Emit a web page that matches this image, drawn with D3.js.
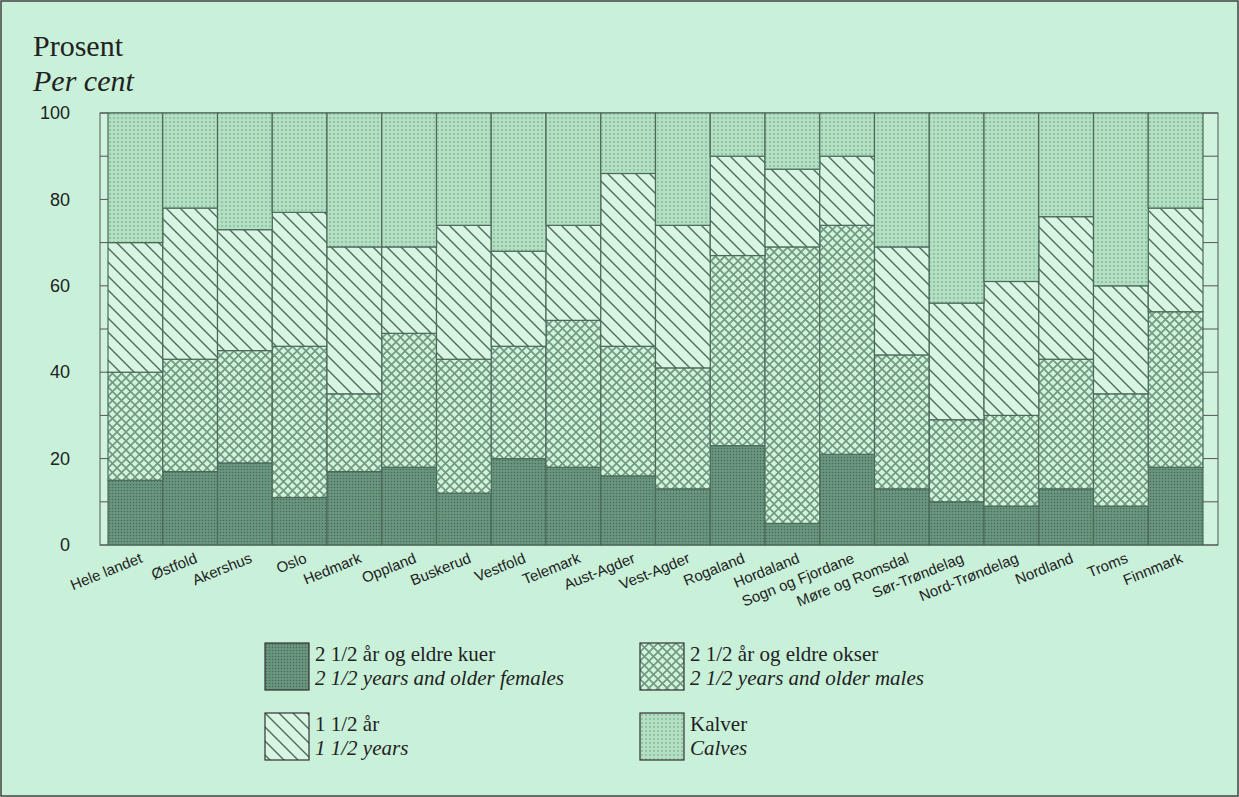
<!DOCTYPE html>
<html><head><meta charset="utf-8">
<script src="https://cdn.jsdelivr.net/npm/d3@7"></script>
<style>body{margin:0;background:#c9f0d9;}svg{display:block}</style>
</head><body>
<svg id="c" width="1239" height="797"></svg>
<script>
const categories=["Hele landet","Østfold","Akershus","Oslo","Hedmark","Oppland","Buskerud","Vestfold","Telemark","Aust-Agder","Vest-Agder","Rogaland","Hordaland","Sogn og Fjordane","Møre og Romsdal","Sør-Trøndelag","Nord-Trøndelag","Nordland","Troms","Finnmark"];
const kuer=[15,17,19,11,17,18,12,20,18,16,13,23,5,21,13,10,9,13,9,18];
const okser=[25,26,26,35,18,31,31,26,34,30,28,44,64,53,31,19,21,30,26,36];
const aar15=[30,35,28,31,34,20,31,22,22,40,33,23,18,16,25,27,31,33,25,24];
const kalver=[30,22,27,23,31,31,26,32,26,14,26,10,13,10,31,44,39,24,40,22];
const yTicks=[0,20,40,60,80,100];
const keys=["kuer","okser","aar15","kalver"];

const svg=d3.select("#c");
const defs=svg.append("defs");
function dots(id,bg,fg,s,r){const p=defs.append("pattern").attr("id",id).attr("width",s).attr("height",s).attr("patternUnits","userSpaceOnUse");
 p.append("rect").attr("width",s).attr("height",s).attr("fill",bg);p.append("circle").attr("cx",s/2).attr("cy",s/2).attr("r",r).attr("fill",fg);}
dots("pk","#6a9680","#476b58",3,0.8);
dots("pc","#b3e0c4","#86b598",4,0.9);
(function(){const p=defs.append("pattern").attr("id","po").attr("width",9).attr("height",9).attr("patternUnits","userSpaceOnUse");
 p.append("rect").attr("width",9).attr("height",9).attr("fill","#d2f2de");
 p.append("path").attr("d","M0,0L9,9M9,0L0,9").attr("stroke","#6f9a80").attr("stroke-width",1.6);})();
(function(){const p=defs.append("pattern").attr("id","pa").attr("width",14).attr("height",14).attr("patternUnits","userSpaceOnUse");
 p.append("rect").attr("width",14).attr("height",14).attr("fill","#d8f5e3");
 p.append("path").attr("d","M0,0L14,14M-7,7L7,21M7,-7L21,7").attr("stroke","#4e6e5c").attr("stroke-width",1.4);})();
const fills={kuer:"url(#pk)",okser:"url(#po)",aar15:"url(#pa)",kalver:"url(#pc)"};

svg.append("rect").attr("x",1).attr("y",1).attr("width",1237).attr("height",795).attr("fill","none").attr("stroke","#444").attr("stroke-width",1.5);
svg.append("text").attr("x",33).attr("y",56).attr("font-family","Liberation Serif").attr("font-size",30).attr("fill","#222").text("Prosent");
svg.append("text").attr("x",33).attr("y",91).attr("font-family","Liberation Serif").attr("font-style","italic").attr("font-size",30).attr("fill","#222").text("Per cent");

const x=d3.scaleBand().domain(categories).range([108,1203]).padding(0);
const y=d3.scaleLinear().domain([0,100]).range([545,113]);
svg.append("rect").attr("x",100).attr("y",113).attr("width",1118).attr("height",432).attr("fill","#d0f3de").attr("stroke","#555");

const data=categories.map((c,i)=>({cat:c,kuer:kuer[i],okser:okser[i],aar15:aar15[i],kalver:kalver[i]}));
const stack=d3.stack().keys(keys)(data);
svg.append("g").selectAll("g").data(stack).join("g").attr("fill",d=>fills[d.key])
 .selectAll("rect").data(d=>d).join("rect")
 .attr("x",d=>x(d.data.cat)).attr("width",x.bandwidth())
 .attr("y",d=>y(d[1])).attr("height",d=>y(d[0])-y(d[1]))
 .attr("stroke","#4b6a58").attr("stroke-width",1.2);

const ya=svg.append("g").attr("transform","translate(100,0)").call(d3.axisLeft(y).tickValues(yTicks).tickSize(0).tickPadding(30));
ya.select(".domain").remove();
ya.selectAll("text").attr("font-family","Liberation Sans").attr("font-size",18).attr("fill","#222");
svg.append("g").selectAll("line").data(d3.range(0,101,10)).join("line")
 .attr("x1",100).attr("x2",108).attr("y1",d=>y(d)).attr("y2",d=>y(d)).attr("stroke","#555");
svg.append("g").selectAll("line").data(d3.range(0,101,10)).join("line")
 .attr("x1",1203).attr("x2",1218).attr("y1",d=>y(d)).attr("y2",d=>y(d)).attr("stroke","#555");

svg.append("g").selectAll("text").data(categories).join("text")
 .attr("transform",d=>`translate(${x(d)+x.bandwidth()/2+8},${562}) rotate(-22)`)
 .attr("text-anchor","end").attr("font-family","Liberation Sans").attr("font-size",15).attr("fill","#222").text(d=>d);

const leg=[
 {k:"kuer",a:"2 1/2 år og eldre kuer",b:"2 1/2 years and older females",x:265,y:643},
 {k:"okser",a:"2 1/2 år og eldre okser",b:"2 1/2 years and older males",x:640,y:643},
 {k:"aar15",a:"1 1/2 år",b:"1 1/2 years",x:265,y:713},
 {k:"kalver",a:"Kalver",b:"Calves",x:640,y:713}];
const lg=svg.append("g").selectAll("g").data(leg).join("g").attr("transform",d=>`translate(${d.x},${d.y})`);
lg.append("rect").attr("width",44).attr("height",47).attr("fill",d=>fills[d.k]).attr("stroke","#333").attr("stroke-width",1.2);
lg.append("text").attr("x",50).attr("y",18).attr("font-family","Liberation Serif").attr("font-size",21).attr("fill","#222").text(d=>d.a);
lg.append("text").attr("x",50).attr("y",42).attr("font-family","Liberation Serif").attr("font-style","italic").attr("font-size",21).attr("fill","#222").text(d=>d.b);
</script></body></html>
